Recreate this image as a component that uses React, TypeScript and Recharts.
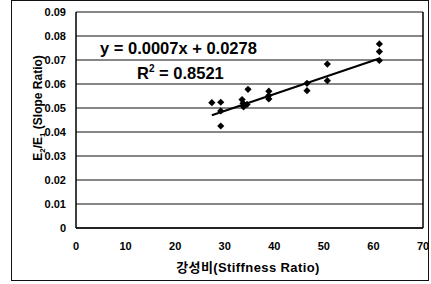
import { ScatterChart, Scatter, XAxis, YAxis, CartesianGrid, ReferenceLine, ZAxis } from "recharts";

const stiffness = [27.4, 29.2, 29.2, 29.2, 33.5, 33.7, 33.8, 34.7, 34.5, 38.9, 38.9, 38.9, 46.6, 46.6, 50.7, 50.7, 61.2, 61.2, 61.2];
const slopeRatio = [0.0522, 0.0524, 0.0488, 0.0425, 0.0535, 0.052, 0.0505, 0.0578, 0.0515, 0.057, 0.0552, 0.0538, 0.0603, 0.0572, 0.0683, 0.0614, 0.0767, 0.0735, 0.0698];

// fitted line end points (y = 0.0007x + 0.0278)
const trendX = [27.4, 61.2];
const trendY = [0.0470, 0.0706];

const xTicks = [0, 10, 20, 30, 40, 50, 60, 70];
const yTicks = [0, 0.01, 0.02, 0.03, 0.04, 0.05, 0.06, 0.07, 0.08, 0.09];

const points = stiffness.map((x, i) => ({ x, y: slopeRatio[i] }));
const trend = trendX.map((x, i) => ({ x, y: trendY[i] }));

const FONT = '"Liberation Sans", Arial, "Noto Sans CJK KR", sans-serif';

const Diamond = (props: any) => {
  const { cx, cy } = props;
  const r = 3.6;
  return <polygon points={`${cx},${cy - r} ${cx + r},${cy} ${cx},${cy + r} ${cx - r},${cy}`} fill="#000" />;
};

const YTitle = () => (
  <g transform="translate(38 108) rotate(-90)">
    <text x={0} y={4} textAnchor="middle" fontFamily={FONT} fontWeight="bold" fontSize={12} fill="#000">
      E<tspan fontSize={8} dy={3}>2</tspan>
      <tspan dy={-3}>/E</tspan>
      <tspan fontSize={8} dy={3}>1</tspan>
      <tspan dy={-3}> (Slope Ratio)</tspan>
    </text>
  </g>
);

const XTitle = () => (
  <text x={248} y={272} textAnchor="middle" fontFamily={FONT} fontWeight="bold" fontSize={13} letterSpacing={0.4} fill="#000">
    강성비(Stiffness Ratio)
  </text>
);

export default function App() {
  return (
    <div style={{ position: "absolute", left: 0, top: 0, width: 431, height: 284, background: "#fff" }}>
      <div
        style={{
          position: "absolute",
          left: 11,
          top: 0,
          width: 418,
          height: 281,
          border: "1.5px solid #111",
          boxSizing: "border-box",
        }}
      />
      <ScatterChart width={431} height={284} margin={{ top: 12, right: 8, bottom: 26, left: 0 }}>
        <CartesianGrid vertical={false} stroke="#111" strokeWidth={1} />
        <XAxis
          type="number"
          dataKey="x"
          domain={[0, 70]}
          ticks={xTicks}
          height={30}
          tickSize={0}
          tickMargin={14}
          axisLine={{ stroke: "#000", strokeWidth: 1.5 }}
          tick={{ fontSize: 11, fontWeight: "bold", fill: "#000", fontFamily: FONT }}
          label={{ content: () => <XTitle /> }}
        />
        <YAxis
          type="number"
          dataKey="y"
          domain={[0, 0.09]}
          ticks={yTicks}
          width={76}
          tickSize={0}
          tickMargin={10}
          axisLine={{ stroke: "#000", strokeWidth: 1.5 }}
          tick={{ fontSize: 11, fontWeight: "bold", fill: "#000", fontFamily: FONT }}
          tickFormatter={(v: number) => (v === 0 ? "0" : v.toFixed(2))}
          label={{ content: () => <YTitle /> }}
        />
        <ZAxis range={[40, 40]} />
        <ReferenceLine x={70} stroke="#000" strokeWidth={1.5} />
        <Scatter data={points} shape={<Diamond />} isAnimationActive={false} />
        <Scatter
          data={trend}
          line={{ stroke: "#000", strokeWidth: 2 }}
          lineType="joint"
          shape={() => <g />}
          isAnimationActive={false}
        />
      </ScatterChart>
      <svg width={431} height={284} style={{ position: "absolute", left: 0, top: 0, pointerEvents: "none" }}>
        <text x={100} y={54} fontFamily={FONT} fontWeight="bold" fontSize={16.5} fill="#000">
          y = 0.0007x + 0.0278
        </text>
        <text x={137} y={79} fontFamily={FONT} fontWeight="bold" fontSize={16.5} fill="#000">
          R<tspan fontSize={10} dy={-7}>2</tspan>
          <tspan dy={7}> = 0.8521</tspan>
        </text>
      </svg>
    </div>
  );
}
